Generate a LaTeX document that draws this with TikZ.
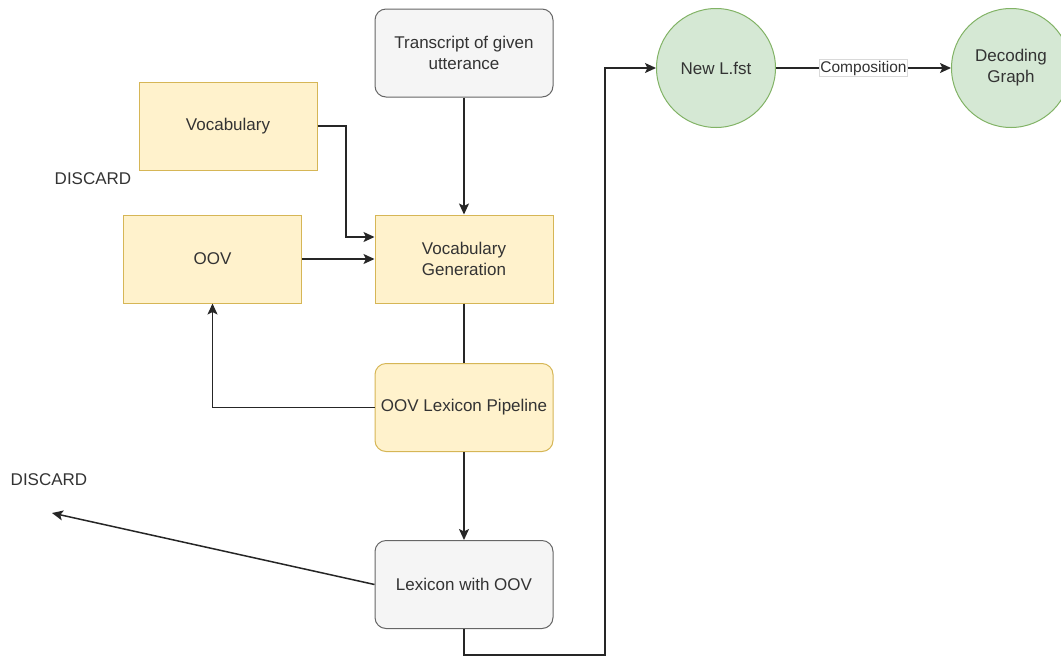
\documentclass[tikz,border=0pt]{standalone}
\usepackage{fontspec}
\setmainfont{Liberation Sans}
\usetikzlibrary{arrows.meta}
\definecolor{txt}{HTML}{333333}
\definecolor{wirecol}{HTML}{262626}
\definecolor{greyfill}{HTML}{F5F5F5}
\definecolor{greyline}{HTML}{666666}
\definecolor{yelfill}{HTML}{FFF2CC}
\definecolor{yelline}{HTML}{D6B656}
\definecolor{grnfill}{HTML}{D5E8D4}
\definecolor{grnline}{HTML}{82B366}
\begin{document}
\begin{tikzpicture}[x=1pt,y=-1pt,
  base/.style={font=\fontsize{17}{21}\selectfont, text=txt, align=center, line width=1pt},
  greybox/.style={base, draw=greyline, fill=greyfill, rounded corners=11pt,
    minimum width=178pt, minimum height=88pt},
  yelbox/.style={base, draw=yelline, fill=yelfill,
    minimum width=178pt, minimum height=88pt},
  yelround/.style={yelbox, rounded corners=11pt},
  circ/.style={base, circle, draw=grnline, fill=grnfill, minimum size=119pt, inner sep=0pt},
  lbl/.style={font=\fontsize{17}{21}\selectfont, text=txt},
  wire/.style={draw=wirecol, line width=1.5pt},
  arr/.style={wire, -{Stealth[length=11pt,width=10pt,inset=2.5pt]}}
]
\useasboundingbox (0,0) rectangle (1061,657);

% process boxes
\node[greybox] (trans) at (464,53) {Transcript of given\\utterance};
\node[yelbox]  (vocab) at (228,126) {Vocabulary};
\node[yelbox]  (oov)   at (212.5,259) {OOV};
\node[yelbox]  (vgen)  at (464,259) {Vocabulary\\Generation};
\node[yelround] (pipe) at (464,407.5) {OOV Lexicon Pipeline};
\node[greybox] (lex)   at (464,584.5) {Lexicon with OOV};

% output graphs
\node[circ] (lfst) at (716,68) {New L.fst};
\node[circ] (dec)  at (1011,68) {Decoding\\Graph};

% free labels
\node[lbl] (disc1) at (93,179) {DISCARD};
\node[lbl] (disc2) at (49,480) {DISCARD};
\coordinate (discend) at (52,513);

% connectors
\draw[arr] (trans.south) -- (vgen.north);
\draw[arr] (vocab.east) -- (346,126) -- (346,237) -- (vgen.west |- 0,237);
\draw[arr] (oov.east) -- (vgen.west);
\draw[wire] (vgen.south) -- (pipe.north);
\draw[arr] (pipe.west) -- (212.5,407.5) -- (oov.south);
\draw[arr] (pipe.south) -- (lex.north);
\draw[arr] (lex.west) -- (discend);
\draw[arr] (lex.south) -- (464,655) -- (605,655) -- (605,68) -- (lfst.west);
\draw[arr] (lfst.east) -- node[fill=white, draw=gray!30, line width=0.6pt,
  inner sep=1pt, font=\fontsize{15.5}{18}\selectfont, text=txt] (comp) {Composition} (dec.west);
\end{tikzpicture}
\end{document}
